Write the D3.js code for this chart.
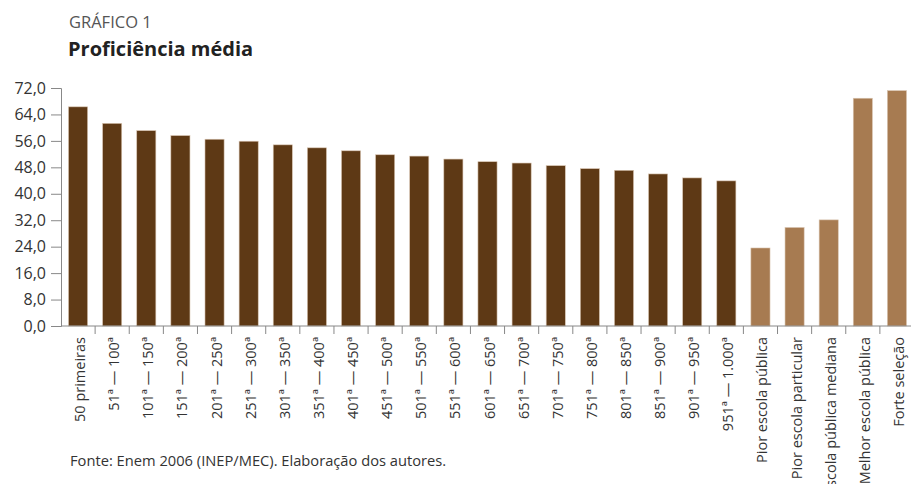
<!DOCTYPE html>
<html>
<head>
<meta charset="utf-8">
<script src="https://cdn.jsdelivr.net/npm/d3@7"></script>
<style>
  body { margin: 0; background: #fff; }
  svg { font-family: "Open Sans", sans-serif; }
</style>
</head>
<body>
<div id="chart"></div>
<script>
// categories and values
const categories = [
    "50 primeiras", "51ª — 100ª", "101ª — 150ª", "151ª — 200ª", "201ª — 250ª",
    "251ª — 300ª", "301ª — 350ª", "351ª — 400ª", "401ª — 450ª", "451ª — 500ª",
    "501ª — 550ª", "551ª — 600ª", "601ª — 650ª", "651ª — 700ª", "701ª — 750ª",
    "751ª — 800ª", "801ª — 850ª", "851ª — 900ª", "901ª — 950ª", "951ª — 1.000ª",
    "Pior escola pública", "Pior escola particular", "Escola pública mediana",
    "Melhor escola pública", "Forte seleção"
];
const values = [
    66.3, 61.3, 59.1, 57.6, 56.5, 55.9, 54.8, 53.9, 53.0, 51.8,
    51.4, 50.5, 49.7, 49.3, 48.5, 47.6, 47.1, 46.0, 44.8, 43.9,
    23.6, 29.8, 32.1, 68.9, 71.2
];
// which bars are the reference groups (lighter colour)
const groups = [
    "rank", "rank", "rank", "rank", "rank", "rank", "rank", "rank", "rank", "rank",
    "rank", "rank", "rank", "rank", "rank", "rank", "rank", "rank", "rank", "rank",
    "ref", "ref", "ref", "ref", "ref"
];
const yTicks = [0, 8, 16, 24, 32, 40, 48, 56, 64, 72];

const WIDTH = 911, HEIGHT = 484;
const MARGIN = { left: 61, right: -3, top: 88, bottom: 158 };

const svg = d3.select("#chart").append("svg")
    .attr("width", WIDTH)
    .attr("height", HEIGHT);

// titles
svg.append("text")
    .attr("x", 69).attr("y", 28)
    .attr("fill", "#555")
    .style("font-size", "16.5px")
    .text("GRÁFICO 1");

svg.append("text")
    .attr("x", 68).attr("y", 56)
    .attr("fill", "#222")
    .style("font-size", "20px")
    .style("font-weight", "bold")
    .text("Proficiência média");

// scales
const x = d3.scaleBand()
    .domain(categories)
    .range([MARGIN.left, WIDTH - MARGIN.right])
    .paddingInner(0.44)
    .paddingOuter(0.22);

const y = d3.scaleLinear()
    .domain([0, 72])
    .range([HEIGHT - MARGIN.bottom, MARGIN.top]);

const color = d3.scaleOrdinal()
    .domain(["rank", "ref"])
    .range(["#5e3915", "#a77b51"]);

// bars
svg.append("g").selectAll("rect")
    .data(values)
    .enter()
    .append("rect")
    .attr("x", (d, i) => x(categories[i]))
    .attr("y", d => y(d))
    .attr("width", x.bandwidth())
    .attr("height", d => y(0) - y(d))
    .attr("fill", (d, i) => color(groups[i]))
    .attr("stroke", "#d8c4b0")
    .attr("stroke-width", 0.6);

// y axis
const yAxis = svg.append("g")
    .attr("transform", `translate(${MARGIN.left},0)`)
    .call(d3.axisLeft(y)
        .tickValues(yTicks)
        .tickSize(10)
        .tickPadding(5)
        .tickFormat(d => d3.format(".1f")(d).replace(".", ",")));

yAxis.select(".domain").attr("stroke", "#888");
yAxis.selectAll(".tick line").attr("stroke", "#888");
yAxis.selectAll(".tick text")
    .attr("fill", "#333")
    .style("font-size", "16px")
    .style("font-family", "Open Sans, sans-serif");

// x axis: line along zero and ticks at band boundaries
const step = x.step();
const bounds = categories.map(c => x(c) - (step - x.bandwidth()) / 2);
const xAxis = svg.append("g");
xAxis.append("line")
    .attr("x1", MARGIN.left).attr("x2", WIDTH)
    .attr("y1", y(0)).attr("y2", y(0))
    .attr("stroke", "#888");
xAxis.selectAll(".bound")
    .data(bounds.slice(1))
    .enter()
    .append("line")
    .attr("x1", d => d).attr("x2", d => d)
    .attr("y1", y(0)).attr("y2", y(0) + 8)
    .attr("stroke", "#888");

xAxis.selectAll(".label")
    .data(categories)
    .enter()
    .append("text")
    .attr("transform", d => `translate(${x(d) + x.bandwidth() / 2 + 7},${y(0) + 11}) rotate(-90)`)
    .attr("text-anchor", "end")
    .attr("fill", "#333")
    .style("font-size", "14.5px")
    .text(d => d);

// source
svg.append("text")
    .attr("x", 70).attr("y", 466)
    .attr("fill", "#333")
    .style("font-size", "14.7px")
    .text("Fonte: Enem 2006 (INEP/MEC). Elaboração dos autores.");
</script>
</body>
</html>
